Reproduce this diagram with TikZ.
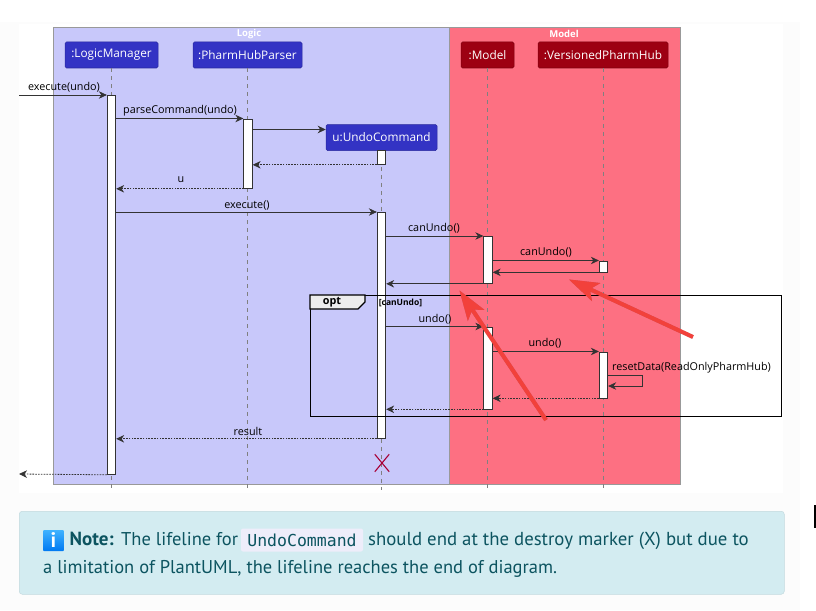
\documentclass[tikz,border=0pt]{standalone}
\usepackage{fontspec}
\setmainfont{Open Sans}
\newfontfamily\notefont{PT Sans}
\newfontfamily\codefont{DejaVu Sans Mono}
\usetikzlibrary{arrows.meta,shapes.misc}
\definecolor{logicbg}{HTML}{C8C8FA}
\definecolor{modelbg}{HTML}{FD7082}
\definecolor{logicact}{HTML}{3333C4}
\definecolor{modelact}{HTML}{9D0012}
\definecolor{msgcol}{HTML}{333333}
\definecolor{redarrow}{HTML}{F2413B}
\definecolor{notebg}{HTML}{D3ECF1}
\definecolor{notefg}{HTML}{0C5460}
\definecolor{codebg}{HTML}{EEEDFA}
\definecolor{xcol}{HTML}{A80036}
\tikzset{
  x=1pt,y=-1pt,
  actor/.style={draw=#1!80!black,line width=.5pt,fill=#1,rounded corners=1.5pt,text=white,font=\fontsize{11.8}{13}\selectfont,inner sep=0pt,minimum height=26,anchor=center},
  group/.style={draw=black!40,line width=.8pt,inner sep=0pt,anchor=north west},
  grouptitle/.style={text=white,font=\fontsize{9.5}{10}\selectfont\bfseries,inner sep=0pt},
  lifeline/.style={draw=black!50,line width=.6pt,dash pattern=on 4pt off 4pt},
  activation/.style={draw=msgcol,line width=.8pt,fill=white,inner sep=0pt,minimum width=8.5,anchor=north},
  msg/.style={draw=msgcol,line width=.8pt,-{Stealth[length=8pt,width=7.5pt,inset=2.5pt]}},
  ret/.style={msg,dash pattern=on 1.6pt off 1.2pt},
  lbl/.style={text=black,font=\fontsize{10.8}{12}\selectfont,inner sep=0pt},
  redtip/.style={draw=redarrow,line width=4pt,-{Stealth[length=30pt,width=20pt,inset=7pt,line width=0pt]}},
  redshadow/.style={redtip,draw=black,opacity=.22,shift={(.8,1)}},
  notetext/.style={anchor=base west,inner sep=0pt,text=notefg,font=\notefont\fontsize{18.5}{20}\selectfont},
}
\begin{document}
\begin{tikzpicture}
\useasboundingbox (0,0) rectangle (816,610);
% page background
\fill[fill=black!1] (0,22) rectangle (800,610);
\fill[white] (19,24) rectangle (783,493);
% groups
\node[group,fill=logicbg,minimum width=396,minimum height=457] (logic) at (53,27) {};
\node[group,fill=modelbg,minimum width=231,minimum height=457] (model) at (449,27) {};
\node[grouptitle] (logicT) at (249,34) {Logic};
\node[grouptitle] (modelT) at (564,34) {Model};
% participants
\node[actor=logicact,minimum width=93] (lm) at (111.5,55) {:LogicManager};
\node[actor=logicact,minimum width=109] (pp) at (247.5,55) {:PharmHubParser};
\node[actor=modelact,minimum width=53] (mm) at (487.5,55) {:Model};
\node[actor=modelact,minimum width=130] (vp) at (603,55) {:VersionedPharmHub};
\node[actor=logicact,minimum width=111] (uc) at (381.5,137.5) {u:UndoCommand};
% lifeline ends
\coordinate (lmEnd) at (111.5,490);
\coordinate (ppEnd) at (247.5,490);
\coordinate (ucEnd) at (381.5,490);
\coordinate (mmEnd) at (487.5,490);
\coordinate (vpEnd) at (603,490);
\draw[lifeline] (lm.south) -- (lmEnd);
\draw[lifeline] (pp.south) -- (ppEnd);
\draw[lifeline] (uc.south) -- (ucEnd);
\draw[lifeline] (mm.south) -- (mmEnd);
\draw[lifeline] (vp.south) -- (vpEnd);
% activations
\node[activation,minimum height=379] (aLM) at (111.5,95) {};
\node[activation,minimum height=69.5] (aPP) at (248,118.5) {};
\node[activation,minimum height=14] (aUC0) at (381.5,150) {};
\node[activation,minimum height=226] (aUC) at (381.5,212) {};
\node[activation,minimum height=47] (aM1) at (488,236) {};
\node[activation,minimum height=11] (aV1) at (603.5,260.5) {};
\node[activation,minimum height=82] (aM2) at (488,326.5) {};
\node[activation,minimum height=46] (aV2) at (603.5,351.5) {};
% opt frame
\node[draw=black,line width=1.4pt,inner sep=0pt,minimum width=470.5,minimum height=120.5,anchor=north west] (optbox) at (310,295) {};
\coordinate (tabA) at (365,295);
\coordinate (tabB) at (365,302);
\coordinate (tabC) at (358,309);
\coordinate (tabD) at (310,309);
\filldraw[draw=black,line width=1.2pt,fill=black!7] (optbox.north west) -- (tabA) -- (tabB) -- (tabC) -- (tabD) -- cycle;
\node[font=\fontsize{10.8}{12}\selectfont\bfseries,inner sep=0pt,text=black] (optL) at (332,302.5) {opt};
\node[font=\fontsize{8.5}{10}\selectfont\bfseries,inner sep=0pt,text=black] (guard) at (400.5,302.5) {[canUndo]};
% free ends
\coordinate (inL) at (19,95);
\coordinate (outL) at (19,474);
% messages
\draw[msg] (inL) -- (aLM.north west);
\node[lbl] (t1) at (64,87) {execute(undo)};
\draw[msg] (aLM.east |- 0,118.5) -- (aPP.north west);
\node[lbl] (t2) at (180,111) {parseCommand(undo)};
\draw[msg] (aPP.east |- 0,129.5) -- (uc.west |- 0,129.5);
\draw[ret] (aUC0.south west) -- (aPP.east |- aUC0.south);
\draw[ret] (aPP.south west) -- (aLM.east |- aPP.south);
\node[lbl] (t3) at (181,180) {u};
\draw[msg] (aLM.east |- aUC.north) -- (aUC.north west);
\node[lbl] (t4) at (247,205) {execute()};
\draw[msg] (aUC.east |- aM1.north) -- (aM1.north west);
\node[lbl] (t5) at (434,228.5) {canUndo()};
\draw[msg] (aM1.east |- aV1.north) -- (aV1.north west);
\node[lbl] (t6) at (546,252.5) {canUndo()};
\draw[msg] (aV1.south west) -- (aM1.east |- aV1.south);
\draw[msg] (aM1.south west) -- (aUC.east |- aM1.south);
\draw[msg] (aUC.east |- aM2.north) -- (aM2.north west);
\node[lbl] (t7) at (435,319) {undo()};
\draw[msg] (aM2.east |- aV2.north) -- (aV2.north west);
\node[lbl] (t8) at (545,343) {undo()};
\draw[msg] (aV2.east |- 0,375) -- (642,375) -- (642,386) -- (aV2.east |- 0,386);
\node[lbl] (t9) at (691.5,367.5) {resetData(ReadOnlyPharmHub)};
\draw[ret] (aV2.south west) -- (aM2.east |- aV2.south);
\draw[ret] (aM2.south west) -- (aUC.east |- aM2.south);
\draw[ret] (aUC.south west) -- (aLM.east |- aUC.south);
\node[lbl] (t10) at (248,431) {result};
\draw[ret] (aLM.south west) -- (outL);
% destroy
\node[minimum width=14,minimum height=17,inner sep=0pt] (destroy) at (382,463) {};
\draw[draw=xcol,line width=1.1pt] (destroy.north west) -- (destroy.south east) (destroy.north east) -- (destroy.south west);
% red annotation arrows
\coordinate (r1s) at (693,337);
\coordinate (r1e) at (569,279.5);
\coordinate (r2s) at (546,420);
\coordinate (r2e) at (459.5,290.5);
\draw[redshadow] (r1s) -- (r1e);
\draw[redshadow] (r2s) -- (r2e);
\draw[redtip] (r1s) -- (r1e);
\draw[redtip] (r2s) -- (r2e);
% note
\node[draw=notebg!92!black,line width=.5pt,fill=notebg,rounded corners=3pt,inner sep=0pt,minimum width=765,minimum height=83,anchor=north west] (note) at (19,511) {};
\node[top color=cyan!60!blue!75,bottom color=cyan!50!blue!95!black,rounded corners=1pt,inner sep=0pt,minimum width=21,minimum height=21,text=white,font=\notefont\bfseries\fontsize{21}{21}\selectfont] (icon) at (53.5,540.5) {i};
\node[notetext,font=\notefont\bfseries\fontsize{19}{20}\selectfont] (noteB) at (69.5,545) {Note:};
\node[notetext] (noteA) at (121,545) {The lifeline for};
\node[fill=codebg,rounded corners=2pt,inner sep=0pt,minimum width=122,minimum height=23,text=notefg,font=\codefont\fontsize{16.5}{18}\selectfont] (code) at (302,540) {UndoCommand};
\node[notetext,font=\notefont\fontsize{18.8}{20}\selectfont] (noteC) at (368,545) {should end at the destroy marker (X) but due to};
\node[notetext] (noteD) at (43,573) {a limitation of PlantUML, the lifeline reaches the end of diagram.};
% page edge mark
\coordinate (markA) at (815,505);
\coordinate (markB) at (815,528);
\draw[black,line width=1.5pt] (markA) -- (markB);
\end{tikzpicture}
\end{document}
